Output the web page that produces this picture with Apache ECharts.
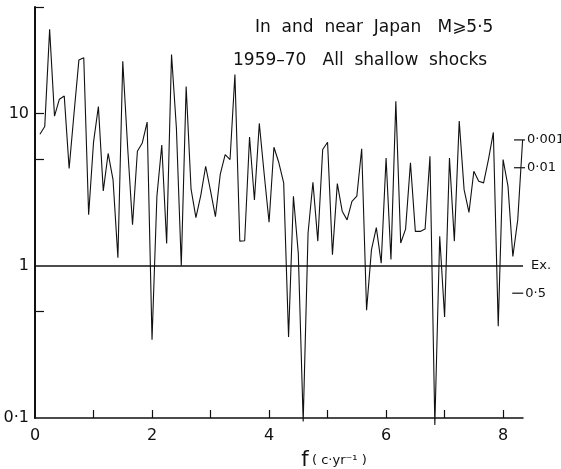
<!DOCTYPE html>
<html>
<head>
<meta charset="utf-8">
<script src="https://cdn.jsdelivr.net/npm/echarts@6/dist/echarts.min.js"></script>
<style>
  html, body { margin: 0; padding: 0; background: #fff; }
  #chart { width: 561px; height: 469px; }
</style>
</head>
<body>
<div id="chart"></div>
<script>
// spectrum sampled every 1/12 c/yr (k = 1..100)
const freqStep = 1 / 12;
const power = [
  7.3, 8.2, 35.7, 9.6, 12.4, 13, 4.35, 10, 22.4, 23.2,
  2.16, 6.45, 11.1, 3.1, 5.46, 3.68, 1.13, 22, 6, 1.86,
  5.65, 6.4, 8.77, 0.326, 2.86, 6.2, 1.4, 24.4, 8, 1.0,
  15, 3.2, 2.07, 2.9, 4.5, 3.1, 2.1, 4.0, 5.37, 4.98,
  18, 1.45, 1.46, 7.0, 2.7, 8.6, 4, 1.93, 6.0, 4.76,
  3.5, 0.34, 2.86, 1.2, 0.095, 1.64, 3.53, 1.45, 5.8, 6.47,
  1.18, 3.46, 2.28, 2.0, 2.65, 2.86, 5.86, 0.51, 1.27, 1.78,
  1.04, 5.1, 1.1, 12.0, 1.41, 1.74, 4.74, 1.68, 1.68, 1.74,
  5.24, 0.09, 1.56, 0.46, 5.1, 1.45, 8.9, 3.16, 2.24, 4.17,
  3.59, 3.5, 5, 7.5, 0.4, 4.98, 3.33, 1.15, 2.0, 6.7
];

// significance levels drawn at the right edge
const sigLabels = ['0·001', '0·01', '0·5'];
const sigValues = [6.7, 4.4, 0.66];
const sigFreq = [8.28, 8.28, 8.25];

const xLabelValues = [0, 2, 4, 6, 8];
const xTickValues = [1, 2, 3, 4, 5, 6, 7, 8];
const yLabelValues = [0.1, 1, 10];
const yTickValues = [0.5, 5, 10, 50];

const chart = echarts.init(document.getElementById('chart'));
const font = 'DejaVu Sans';

const seriesData = power.map((v, i) => [(i + 1) * freqStep, v]);

chart.setOption({
  animation: false,
  title: [
    {
      text: 'In  and  near  Japan   M⩾5·5',
      left: 250, top: 14,
      textStyle: { fontFamily: font, fontSize: 17, fontWeight: 'normal', color: '#111' }
    },
    {
      text: '1959–70   All  shallow  shocks',
      left: 228, top: 47,
      textStyle: { fontFamily: font, fontSize: 17, fontWeight: 'normal', color: '#111' }
    }
  ],
  grid: { left: 35, right: 38, top: 7, bottom: 51, outerBoundsMode: 'none' },
  xAxis: {
    type: 'value',
    min: 0,
    max: 8.34,
    interval: 1,
    splitLine: { show: false },
    axisLine: { lineStyle: { color: '#111', width: 1.5 } },
    axisTick: { inside: true, length: 8, customValues: xTickValues, lineStyle: { color: '#111', width: 1.2 } },
    axisLabel: {
      customValues: xLabelValues,
      margin: 10,
      color: '#111',
      fontFamily: font,
      fontSize: 16
    },
    name: '{f|f} {u|( c·yr⁻¹ )}',
    nameLocation: 'middle',
    nameGap: 32,
    nameTextStyle: {
      padding: [0, 0, 0, 110],
      rich: {
        f: { fontFamily: font, fontSize: 21, color: '#111' },
        u: { fontFamily: font, fontSize: 13, color: '#111' }
      }
    }
  },
  yAxis: {
    type: 'log',
    logBase: 10,
    min: 0.1,
    max: 50,
    splitLine: { show: false },
    axisLine: { show: true, lineStyle: { color: '#111', width: 2 } },
    axisTick: { inside: true, length: 9, customValues: yTickValues, lineStyle: { color: '#111', width: 1.2 } },
    axisLabel: {
      customValues: yLabelValues,
      margin: 6,
      color: '#111',
      fontFamily: font,
      fontSize: 16,
      formatter: v => String(v).replace('.', '·')
    }
  },
  series: [{
    type: 'line',
    data: seriesData,
    showSymbol: false,
    symbol: 'none',
    clip: false,
    lineStyle: { color: '#111', width: 1.1 },
    markLine: {
      silent: true,
      symbol: 'none',
      lineStyle: { color: '#111', width: 1.5, type: 'solid' },
      label: {
        position: 'end',
        distance: 8,
        formatter: 'Ex.',
        color: '#111',
        fontFamily: font,
        fontSize: 13
      },
      data: [{ yAxis: 1 }]
    },
    markPoint: {
      silent: true,
      symbol: 'rect',
      symbolSize: [11, 1.2],
      itemStyle: { color: '#111' },
      label: {
        show: true,
        position: 'right',
        distance: 2,
        color: '#111',
        fontFamily: font,
        fontSize: 13,
        formatter: p => p.name
      },
      data: sigLabels.map((s, i) => ({ name: s, coord: [sigFreq[i], sigValues[i]] }))
    }
  }]
});
</script>
</body>
</html>
